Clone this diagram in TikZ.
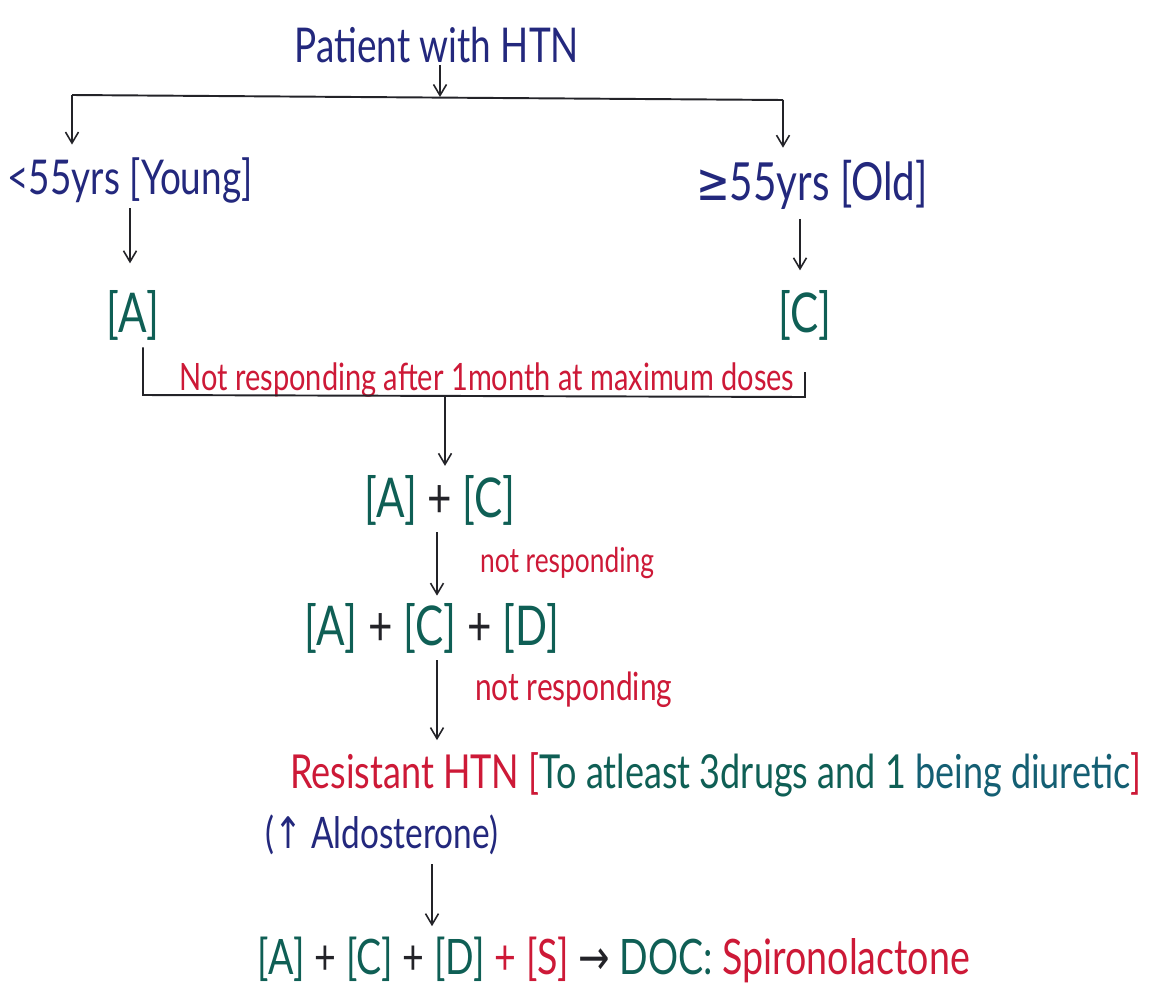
\documentclass[tikz,border=0pt]{standalone}
\usepackage{fontspec}
\setmainfont{Lato}
\newfontfamily\symf{DejaVu Sans}
\usetikzlibrary{arrows.meta}
\definecolor{inkblue}{RGB}{35,40,125}
\definecolor{inkteal}{RGB}{15,95,85}
\definecolor{inkred}{RGB}{205,25,55}
\definecolor{inkblack}{RGB}{35,35,40}
\definecolor{inkcyan}{RGB}{20,95,115}
\newcommand{\tallt}[1]{\scalebox{1}[1.3]{#1}}
\begin{document}
\begin{tikzpicture}[x=0.02cm,y=-0.02cm,
  every node/.style={inner sep=1pt},
  arr/.style={draw=inkblack, line width=0.9pt, -{Straight Barb[length=2.2mm,width=2.6mm]}},
  ln/.style={draw=inkblack, line width=1.1pt},
  big/.style={font=\fontsize{21}{25}\selectfont},
  mid/.style={font=\fontsize{19}{23}\selectfont},
  small/.style={font=\fontsize{15}{18}\selectfont},
  drug/.style={text=inkteal, font=\fontsize{24}{28}\selectfont}
]
\useasboundingbox (0,0) rectangle (1153,994);
\fill[white] (0,0) rectangle (1153,994);

% nodes
\node[big, text=inkblue] (pt) at (437,45) {\tallt{Patient with HTN}};
\node[big, text=inkblue] (young) at (130,180) {\tallt{<55yrs [Young]}};
\node[big, text=inkblue, font=\fontsize{23}{27}\selectfont] (old) at (812,185) {\tallt{{\symf ≥}55yrs [Old]}};
\node[drug] (a) at (133,315) {\tallt{[A]}};
\node[drug] (c) at (805,315) {\tallt{[C]}};
\node[small, text=inkred, anchor=base, font=\fontsize{16.5}{19}\selectfont] (note) at (487,390) {\tallt{Not responding after 1month at maximum doses}};
\node[drug] (ac) at (440,500) {\tallt{[A] {\color{inkblack}+} [C]}};
\node[small, text=inkred, anchor=west] (nr1) at (478,563) {\tallt{not responding}};
\node[drug] (acd) at (432,628) {\tallt{[A] {\color{inkblack}+} [C] {\color{inkblack}+} [D]}};
\node[small, text=inkred, anchor=west, font=\fontsize{17}{20}\selectfont] (nr2) at (473,690) {\tallt{not responding}};
\node[mid, anchor=west, font=\fontsize{20.5}{24}\selectfont] (resist) at (288,775) {\tallt{{\color{inkred}Resistant HTN [}{\color{inkteal}To atleast 3drugs and 1 }{\color{inkcyan}being diuretic}{\color{inkred}]}}};
\node[mid, text=inkblue] (aldo) at (382,835) {\tallt{({\symf ↑} Aldosterone)}};
\node[mid, font=\fontsize{21.4}{25}\selectfont] (final) at (614,960) {\tallt{{\color{inkteal}[A]} {\color{inkblack}+} {\color{inkteal}[C]} {\color{inkblack}+} {\color{inkteal}[D]} {\color{inkred}+ [S]} {\color{inkblack}\symf →} {\color{inkteal}DOC:} {\color{inkred}Spironolactone}}};

% coordinates
\coordinate (top) at (440,97);
\coordinate (tl) at (72,95);
\coordinate (tr) at (783,100);
\coordinate (bl) at (143,395);
\coordinate (br) at (805,397);
\coordinate (brt) at (805,372);
\coordinate (bm) at (445,396);

% connectors
\draw[arr] (pt.south -| top) -- (top);
\draw[ln] (tl) -- (tr);
\draw[arr] (tl) -- ([yshift=6pt]young.north -| tl);
\draw[arr] (tr) -- ([yshift=6pt]old.north -| tr);
\draw[arr] ([yshift=-2pt]young.south -| 130,0) -- ([yshift=14pt]a.north -| 130,0);
\draw[arr] ([yshift=-4pt]old.south -| 800,0) -- ([yshift=10pt]c.north -| 800,0);
\draw[ln] ([yshift=-3pt]a.south -| bl) -- (bl) -- (br) -- (brt);
\draw[arr] (bm) -- ([yshift=4pt]ac.north -| bm);
\draw[arr] ([yshift=-3pt]ac.south -| 437,0) -- ([yshift=3pt]acd.north -| 437,0);
\draw[arr] ([yshift=-3pt]acd.south -| 437,0) -- ([yshift=6pt]resist.north -| 437,0);
\draw[arr] ([yshift=-4pt]aldo.south -| 432,0) -- ([yshift=5pt]final.north -| 432,0);
\end{tikzpicture}
\end{document}
